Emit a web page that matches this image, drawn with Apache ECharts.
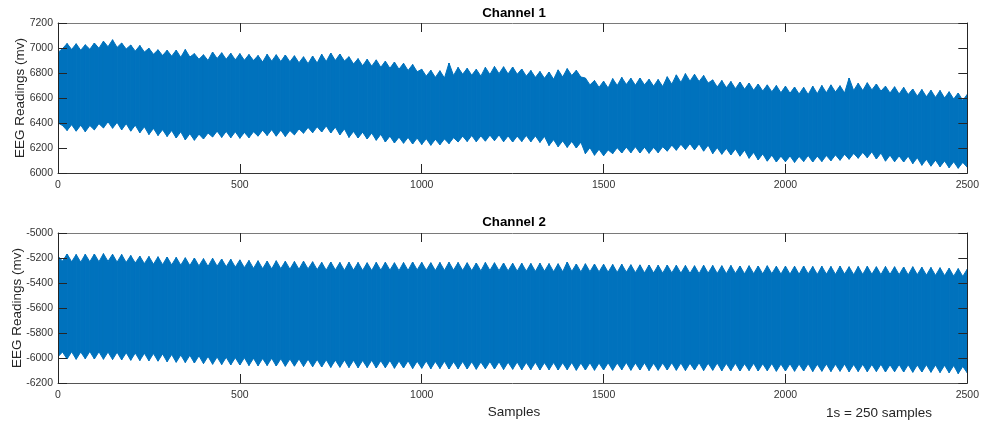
<!DOCTYPE html>
<html>
<head>
<meta charset="utf-8">
<title>EEG Channels</title>
<script src="https://cdn.jsdelivr.net/npm/echarts@6/dist/echarts.min.js"></script>
<style>
  html, body { margin: 0; padding: 0; background: #ffffff; }
  #chart { width: 982px; height: 425px; }
</style>
</head>
<body>
<div id="chart"></div>
<script>
// Signal envelopes, one value every SAMPLE_STEP samples from sample 0 to 2500.
// Even entries are the crests of each ripple, odd entries the notches between them.
const SAMPLE_STEP = 12.5;

const ch1Upper = [
  6965, 6995, 7036, 6988, 7034, 6982, 7026, 6990,
  7040, 6998, 7055, 7010, 7066, 7005, 7040, 6992,
  7024, 6975, 7020, 6968, 6998, 6950, 6986, 6940,
  6982, 6935, 6983, 6926, 6988, 6928, 6955, 6910,
  6946, 6900, 6968, 6916, 6962, 6910, 6958, 6905,
  6955, 6902, 6948, 6900, 6940, 6888, 6950, 6895,
  6946, 6892, 6944, 6890, 6938, 6882, 6930, 6875,
  6936, 6880, 6950, 6892, 6960, 6900, 6952, 6896,
  6930, 6872, 6915, 6858, 6910, 6855, 6905, 6846,
  6895, 6838, 6888, 6830, 6878, 6820, 6868, 6810,
  6830, 6775, 6822, 6765, 6818, 6760, 6880, 6780,
  6845, 6790, 6838, 6782, 6830, 6775, 6845, 6788,
  6852, 6795, 6850, 6792, 6848, 6790, 6832, 6775,
  6820, 6765, 6812, 6758, 6808, 6750, 6825, 6768,
  6835, 6780, 6822, 6768, 6760, 6705, 6740, 6685,
  6735, 6680, 6755, 6700, 6765, 6708, 6758, 6702,
  6760, 6705, 6750, 6695, 6748, 6692, 6770, 6710,
  6785, 6725, 6795, 6735, 6790, 6732, 6780, 6720,
  6745, 6688, 6740, 6682, 6732, 6675, 6728, 6670,
  6720, 6662, 6712, 6656, 6705, 6650, 6700, 6642,
  6695, 6638, 6688, 6632, 6685, 6628, 6695, 6635,
  6700, 6642, 6705, 6648, 6698, 6640, 6760, 6660,
  6718, 6660, 6722, 6665, 6712, 6655, 6695, 6640,
  6690, 6632, 6685, 6628, 6672, 6615, 6668, 6610,
  6662, 6605, 6660, 6600, 6650, 6592, 6640, 6580,
  6630
];

const ch1Lower = [
  6400, 6380, 6340, 6387, 6335, 6383, 6330, 6380,
  6345, 6395, 6360, 6410, 6358, 6405, 6345, 6395,
  6335, 6383, 6322, 6370, 6308, 6357, 6300, 6347,
  6292, 6340, 6280, 6330, 6265, 6315, 6262, 6311,
  6272, 6320, 6288, 6335, 6285, 6333, 6282, 6330,
  6278, 6325, 6282, 6330, 6295, 6343, 6300, 6347,
  6295, 6343, 6292, 6340, 6305, 6353, 6318, 6365,
  6322, 6370, 6328, 6377, 6320, 6367, 6305, 6353,
  6285, 6333, 6280, 6327, 6272, 6320, 6262, 6310,
  6248, 6295, 6240, 6287, 6238, 6285, 6232, 6280,
  6228, 6275, 6222, 6270, 6226, 6273, 6235, 6283,
  6248, 6295, 6252, 6300, 6250, 6297, 6255, 6303,
  6258, 6305, 6250, 6297, 6248, 6295, 6252, 6300,
  6250, 6297, 6245, 6293, 6220, 6267, 6210, 6257,
  6205, 6253, 6200, 6247, 6155, 6203, 6142, 6190,
  6138, 6185, 6155, 6203, 6160, 6207, 6162, 6210,
  6160, 6207, 6158, 6205, 6162, 6210, 6175, 6223,
  6182, 6230, 6188, 6235, 6185, 6233, 6175, 6223,
  6155, 6203, 6150, 6197, 6145, 6193, 6135, 6183,
  6118, 6165, 6105, 6153, 6095, 6143, 6088, 6135,
  6090, 6137, 6085, 6133, 6092, 6140, 6088, 6135,
  6092, 6140, 6098, 6145, 6102, 6150, 6110, 6157,
  6118, 6165, 6122, 6170, 6112, 6160, 6095, 6143,
  6090, 6137, 6088, 6135, 6075, 6123, 6062, 6110,
  6055, 6103, 6050, 6097, 6042, 6090, 6038, 6085,
  6045
];

const ch2Upper = [
  -5185, -5225, -5168, -5230, -5172, -5233, -5170, -5230,
  -5168, -5230, -5165, -5227, -5170, -5233, -5172, -5235,
  -5180, -5240, -5185, -5245, -5188, -5250, -5190, -5253,
  -5192, -5255, -5195, -5257, -5198, -5260, -5200, -5263,
  -5205, -5267, -5202, -5265, -5208, -5270, -5210, -5273,
  -5215, -5277, -5220, -5283, -5222, -5285, -5225, -5287,
  -5222, -5285, -5226, -5289, -5228, -5290, -5225, -5287,
  -5230, -5293, -5235, -5297, -5232, -5295, -5236, -5299,
  -5234, -5297, -5236, -5299, -5238, -5300, -5235, -5297,
  -5234, -5297, -5238, -5301, -5236, -5299, -5232, -5295,
  -5235, -5297, -5238, -5300, -5236, -5299, -5234, -5297,
  -5236, -5299, -5238, -5301, -5240, -5303, -5236, -5299,
  -5238, -5301, -5240, -5303, -5242, -5305, -5242, -5305,
  -5244, -5307, -5242, -5305, -5245, -5309, -5246, -5310,
  -5232, -5307, -5248, -5311, -5246, -5309, -5248, -5311,
  -5250, -5313, -5252, -5315, -5250, -5313, -5254, -5317,
  -5255, -5319, -5256, -5320, -5258, -5321, -5256, -5319,
  -5258, -5321, -5260, -5323, -5262, -5325, -5258, -5321,
  -5260, -5323, -5262, -5325, -5260, -5323, -5264, -5327,
  -5262, -5325, -5264, -5327, -5262, -5325, -5266, -5329,
  -5265, -5329, -5266, -5330, -5264, -5327, -5268, -5331,
  -5266, -5329, -5268, -5331, -5265, -5329, -5270, -5333,
  -5268, -5331, -5266, -5330, -5270, -5333, -5268, -5331,
  -5270, -5333, -5272, -5335, -5270, -5333, -5274, -5337,
  -5276, -5339, -5278, -5341, -5282, -5345, -5285, -5347,
  -5288
];

const ch2Lower = [
  -5990, -5952, -6008, -5950, -6010, -5952, -6006, -5948,
  -6008, -5950, -6010, -5952, -6012, -5954, -6015, -5957,
  -6018, -5960, -6020, -5962, -6022, -5964, -6025, -5967,
  -6030, -5972, -6034, -5976, -6036, -5978, -6040, -5982,
  -6045, -5987, -6050, -5992, -6052, -5994, -6055, -5997,
  -6056, -5998, -6060, -6002, -6062, -6004, -6060, -6002,
  -6064, -6006, -6066, -6008, -6065, -6007, -6068, -6010,
  -6070, -6012, -6072, -6014, -6075, -6017, -6074, -6016,
  -6076, -6018, -6078, -6020, -6076, -6018, -6080, -6022,
  -6078, -6020, -6082, -6024, -6080, -6022, -6084, -6026,
  -6082, -6024, -6086, -6028, -6084, -6026, -6088, -6030,
  -6086, -6028, -6088, -6030, -6090, -6032, -6086, -6028,
  -6088, -6030, -6092, -6034, -6090, -6032, -6094, -6036,
  -6092, -6034, -6095, -6037, -6094, -6036, -6096, -6038,
  -6094, -6036, -6098, -6040, -6096, -6038, -6098, -6040,
  -6096, -6038, -6098, -6040, -6094, -6036, -6098, -6040,
  -6096, -6038, -6100, -6042, -6098, -6040, -6096, -6038,
  -6098, -6040, -6100, -6042, -6096, -6038, -6100, -6042,
  -6098, -6040, -6102, -6044, -6100, -6042, -6104, -6046,
  -6100, -6042, -6104, -6046, -6102, -6044, -6106, -6048,
  -6104, -6046, -6106, -6048, -6104, -6046, -6108, -6050,
  -6106, -6048, -6108, -6050, -6106, -6048, -6110, -6052,
  -6108, -6050, -6110, -6052, -6108, -6050, -6112, -6054,
  -6110, -6052, -6112, -6054, -6114, -6056, -6112, -6054,
  -6114, -6056, -6116, -6058, -6118, -6060, -6125, -6067,
  -6120
];

// Axis ranges and tick steps
const xRange = { min: 0, max: 2500, step: 500 };
const ch1Range = { min: 6000, max: 7200, step: 200 };
const ch2Range = { min: -6200, max: -5000, step: 200 };

const titles = ['Channel 1', 'Channel 2'];
const yTitle = 'EEG Readings (mv)';
const xTitle = 'Samples';
const note = '1s = 250 samples';

const BLUE = '#0072BD';
const INK = '#262626';
const FONT = '"Liberation Sans", Arial, Helvetica, sans-serif';

// Rows of [sample, upper, lower] for the custom band series
function bandRows(upper, lower) {
  return upper.map((v, i) => [i * SAMPLE_STEP, v, lower[i]]);
}

const plainNumber = (v) => String(v);

function xAxisPair(gridIndex, bottomColor, topColor) {
  const common = {
    type: 'value', gridIndex: gridIndex,
    min: xRange.min, max: xRange.max, interval: xRange.step,
    splitLine: { show: false }, z: 5,
    axisTick: { inside: true, length: 9, lineStyle: { color: INK, width: 1 } }
  };
  return [
    Object.assign({}, common, {
      position: 'bottom',
      axisLine: { show: true, onZero: false, lineStyle: { color: bottomColor, width: 1 } },
      axisLabel: { margin: 7, color: '#333', fontSize: 10.5, fontFamily: FONT, formatter: plainNumber }
    }),
    Object.assign({}, common, {
      position: 'top',
      axisLine: { show: true, onZero: false, lineStyle: { color: topColor, width: 1 } },
      axisLabel: { show: false }
    })
  ];
}

function yAxisPair(gridIndex, range) {
  const common = {
    type: 'value', gridIndex: gridIndex,
    min: range.min, max: range.max, interval: range.step,
    splitLine: { show: false }, z: 5,
    axisLine: { show: true, onZero: false, lineStyle: { color: INK, width: 1 } },
    axisTick: { inside: true, length: 9, lineStyle: { color: INK, width: 1 } }
  };
  return [
    Object.assign({}, common, {
      position: 'left',
      axisLabel: { margin: 5, color: '#333', fontSize: 10.5, fontFamily: FONT, formatter: plainNumber }
    }),
    Object.assign({}, common, {
      position: 'right',
      axisLabel: { show: false }
    })
  ];
}

// Each data row draws the strip of the band up to the next row.
function bandSeries(axisIndex, upper, lower) {
  const rows = bandRows(upper, lower);
  return {
    type: 'custom',
    coordinateSystem: 'cartesian2d',
    xAxisIndex: axisIndex, yAxisIndex: axisIndex,
    data: rows,
    encode: { x: 0, y: [1, 2] },
    clip: true, silent: true, animation: false,
    renderItem: function (params, api) {
      const i = params.dataIndex;
      if (i >= rows.length - 1) return null;
      const a = rows[i], b = rows[i + 1];
      return {
        type: 'polygon',
        shape: {
          points: [
            api.coord([a[0], a[1]]),
            api.coord([b[0], b[1]]),
            api.coord([b[0], b[2]]),
            api.coord([a[0], a[2]])
          ]
        },
        style: { fill: BLUE, stroke: BLUE, lineWidth: 1 }
      };
    }
  };
}

function label(text, x, y, size, weight, rotation) {
  return {
    type: 'text', x: x, y: y, rotation: rotation || 0, z: 10,
    style: {
      text: text, fill: weight === 'bold' ? '#000' : '#262626',
      font: (weight === 'bold' ? 'bold ' : '') + size + 'px ' + FONT,
      align: 'center', verticalAlign: 'middle'
    }
  };
}

const chart = echarts.init(document.getElementById('chart'), null, { renderer: 'canvas' });

chart.setOption({
  animation: false,
  backgroundColor: '#ffffff',
  grid: [
    { left: 58, top: 23, width: 912, height: 150 },
    { left: 58, top: 233, width: 912, height: 150 }
  ],
  xAxis: [].concat(
    xAxisPair(0, '#333333', '#7a7a7a'),
    xAxisPair(1, '#555555', '#7a7a7a')
  ),
  yAxis: [].concat(
    yAxisPair(0, ch1Range),
    yAxisPair(1, ch2Range)
  ),
  series: [
    bandSeries(0, ch1Upper, ch1Lower),
    bandSeries(2, ch2Upper, ch2Lower)
  ],
  graphic: [
    label(titles[0], 514, 13, 13.3, 'bold'),
    label(titles[1], 514, 222, 13.3, 'bold'),
    label(yTitle, 20, 98, 13.5, 'normal', Math.PI / 2),
    label(yTitle, 17, 308, 13.5, 'normal', Math.PI / 2),
    label(xTitle, 514, 412, 13.5, 'normal'),
    label(note, 879, 413, 13.5, 'normal')
  ]
});
</script>
</body>
</html>
